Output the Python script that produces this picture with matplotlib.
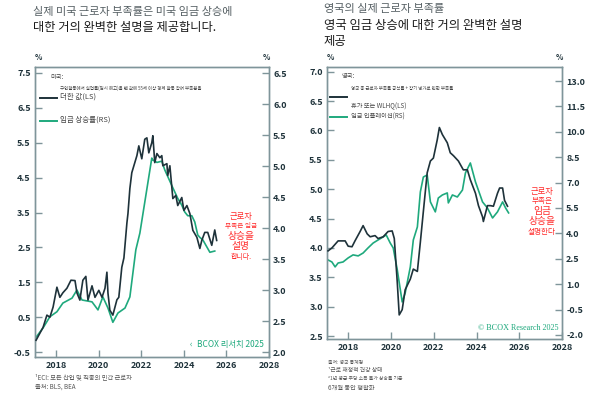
import matplotlib
matplotlib.use("Agg")
import matplotlib.pyplot as plt
from matplotlib.lines import Line2D

plt.rcParams['font.family'] = ['Noto Sans CJK KR', 'DejaVu Sans']

# ---- data ----
# US: worker shortage (LS)
us_short_t = [2017.05, 2017.38, 2017.56, 2017.70, 2017.85, 2018.03, 2018.17, 2018.31, 2018.50,
              2018.69, 2018.88, 2018.97, 2019.11, 2019.25, 2019.39, 2019.49, 2019.68, 2019.82,
              2020.00, 2020.15, 2020.29, 2020.38, 2020.43, 2020.52, 2020.66, 2020.85, 2020.94,
              2021.08, 2021.18, 2021.32, 2021.37, 2021.46, 2021.55, 2021.79, 2021.88, 2022.02,
              2022.16, 2022.26, 2022.35, 2022.49, 2022.54, 2022.63, 2022.73, 2022.87, 2022.96,
              2023.01, 2023.20, 2023.24, 2023.34, 2023.48, 2023.62, 2023.71, 2023.90, 2024.00,
              2024.14, 2024.28, 2024.42, 2024.61, 2024.75, 2024.84, 2024.98, 2025.12, 2025.31,
              2025.45, 2025.54]
us_short_v = [-0.16, 0.21, 0.56, 0.50, 0.79, 1.36, 1.07, 1.20, 1.33,
              1.56, 1.55, 1.20, 0.99, 1.56, 1.67, 0.99, 1.40, 1.07,
              1.27, 1.07, 1.33, 1.79, 1.19, 0.70, 0.56, 1.00, 1.07,
              1.93, 2.20, 3.20, 3.47, 4.19, 4.64, 5.13, 5.41, 5.04,
              5.60, 5.64, 5.21, 5.50, 5.70, 4.93, 5.19, 5.07, 5.13,
              4.84, 4.90, 4.56, 4.84, 3.90, 3.99, 3.70, 3.93, 3.56,
              3.70, 3.47, 2.99, 2.79, 2.47, 2.70, 2.93, 2.93, 2.56,
              3.00, 2.70]
# US: wage growth (RS)
us_wage_t = [2017.05, 2017.38, 2017.70, 2018.03, 2018.31, 2018.74, 2018.97, 2019.21, 2019.68,
             2019.96, 2020.19, 2020.43, 2020.66, 2020.90, 2021.23, 2021.46, 2021.74, 2021.93,
             2022.49, 2022.54, 2022.73, 2022.96, 2023.10, 2023.48, 2023.71, 2023.90, 2024.04,
             2024.18, 2024.37, 2024.51, 2024.65, 2024.75, 2024.89, 2025.22, 2025.45]
us_wage_v = [2.24, 2.39, 2.57, 2.65, 2.79, 2.87, 3.00, 2.84, 2.81,
             2.68, 2.89, 2.71, 2.48, 2.63, 2.71, 2.89, 3.65, 3.92,
             5.13, 5.10, 5.06, 5.08, 4.94, 4.65, 4.48, 4.37, 4.26,
             4.20, 4.20, 4.10, 3.89, 3.85, 3.81, 3.61, 3.63]

# UK: worker shortage (LS)
uk_short_t = [2017.05, 2017.23, 2017.52, 2017.85, 2017.99, 2018.17, 2018.31, 2018.55, 2018.69,
              2018.88, 2019.02, 2019.25, 2019.39, 2019.63, 2019.86, 2020.05, 2020.15, 2020.29,
              2020.38, 2020.52, 2020.66, 2020.90, 2021.04, 2021.23, 2021.37, 2021.51, 2021.69,
              2021.84, 2021.98, 2022.16, 2022.26, 2022.40, 2022.63, 2022.77, 2022.92, 2023.15,
              2023.38, 2023.57, 2023.71, 2023.95, 2024.09, 2024.28, 2024.32, 2024.51, 2024.65,
              2024.79, 2024.98, 2025.08, 2025.22, 2025.31, 2025.45]
uk_short_v = [3.95, 4.00, 4.12, 4.12, 4.03, 4.02, 4.12, 4.28, 4.38,
              4.24, 4.19, 4.21, 4.16, 4.19, 4.28, 4.29, 4.16, 3.41,
              2.86, 2.95, 3.29, 3.47, 3.64, 3.60, 4.10, 4.62, 5.28,
              5.48, 5.53, 5.84, 6.05, 5.93, 5.79, 5.62, 5.57, 5.48,
              5.33, 5.33, 5.16, 4.93, 4.72, 4.53, 4.45, 4.72, 4.72,
              4.71, 4.93, 5.02, 5.02, 4.81, 4.71]
# UK: wage inflation (RS)
uk_wage_t = [2017.05, 2017.23, 2017.38, 2017.52, 2017.75, 2017.99, 2018.22, 2018.46, 2018.69,
             2018.92, 2019.16, 2019.39, 2019.63, 2019.77, 2019.96, 2020.10, 2020.29, 2020.52,
             2020.66, 2020.90, 2021.04, 2021.23, 2021.37, 2021.51, 2021.69, 2021.84, 2022.07,
             2022.21, 2022.40, 2022.63, 2022.68, 2022.87, 2023.10, 2023.34, 2023.48, 2023.71,
             2023.95, 2024.28, 2024.51, 2024.75, 2024.98, 2025.22, 2025.36, 2025.50]
uk_wage_v = [2.43, 2.31, 2.02, 2.25, 2.31, 2.55, 2.73, 2.67, 2.84,
             3.14, 3.43, 3.61, 3.79, 3.91, 3.43, 3.14, 1.84, -0.05,
             0.48, 2.02, 3.61, 4.38, 6.45, 7.33, 7.45, 5.86, 5.27,
             6.09, 6.27, 6.39, 5.80, 6.27, 6.15, 6.56, 7.57, 8.16,
             7.04, 5.86, 5.50, 4.91, 5.27, 5.86, 5.50, 5.21]

x_ticks = [2018, 2020, 2022, 2024, 2026, 2028]
us_left_ticks = [-0.5, 0.5, 1.5, 2.5, 3.5, 4.5, 5.5, 6.5, 7.5]
us_right_ticks = [2.0, 2.5, 3.0, 3.5, 4.0, 4.5, 5.0, 5.5, 6.0, 6.5]
uk_left_ticks = [2.5, 3.0, 3.5, 4.0, 4.5, 5.0, 5.5, 6.0, 6.5, 7.0]
uk_right_ticks = [-2.0, -0.5, 1.0, 2.5, 4.0, 5.5, 7.0, 8.5, 10.0, 11.5, 13.0]

DARK = '#1e323a'
GREEN = '#1fa97d'
SPINE = '#7f959a'
RED = '#ff2a2a'

W, H = 590, 394
fig = plt.figure(figsize=(W / 100, H / 100), dpi=100)


def fx(px):
    return px / W


def fy(py):
    return 1 - py / H


def style(ax):
    for s in ax.spines.values():
        s.set_color(SPINE)
        s.set_linewidth(1.0)
    ax.tick_params(direction='in', length=5, width=1, color=SPINE,
                   labelsize=6.5, labelcolor=DARK, pad=3)
    for lab in ax.get_xticklabels() + ax.get_yticklabels():
        lab.set_fontweight('bold')


def make_panel(rect, lt, lv, rt, rv, xt, lticks, rticks, llim, rlim):
    ax = fig.add_axes(rect)
    ax2 = ax.twinx()
    ax.plot(lt, lv, color=DARK, lw=1.2, zorder=3)
    ax2.plot(rt, rv, color=GREEN, lw=1.2)
    ax.set_zorder(ax2.get_zorder() + 1)
    ax.patch.set_visible(False)
    ax.set_xlim(2017.0, 2028.0)
    ax.set_xticks(xt)
    ax.set_xticklabels([str(v) for v in xt])
    ax.set_ylim(*llim)
    ax.set_yticks(lticks)
    ax.set_yticklabels([f'{v:.1f}' for v in lticks])
    ax2.set_ylim(*rlim)
    ax2.set_yticks(rticks)
    ax2.set_yticklabels([f'{v:.1f}' for v in rticks])
    style(ax)
    style(ax2)
    return ax, ax2


# left panel (US)
axL, axL2 = make_panel([fx(35), fy(357), fx(269) - fx(35), fy(67) - fy(357)],
                       us_short_t, us_short_v, us_wage_t, us_wage_v, x_ticks,
                       us_left_ticks, us_right_ticks, (-0.64, 7.67), (1.92, 6.6))
# right panel (UK)
axR, axR2 = make_panel([fx(327), fy(339), fx(562) - fx(327), fy(67) - fy(339)],
                       uk_short_t, uk_short_v, uk_wage_t, uk_wage_v, x_ticks,
                       uk_left_ticks, uk_right_ticks, (2.45, 7.08), (-2.24, 13.83))

# titles
fig.text(fx(33), fy(12), '실제 미국 근로자 부족률은 미국 임금 상승에', fontsize=8,
         color='#555f63', va='center')
fig.text(fx(33), fy(27), '대한 거의 완벽한 설명을 제공합니다.', fontsize=8.8,
         color='#1a1a1a', va='center', fontweight='medium')
fig.text(fx(324), fy(9), '영국의 실제 근로자 부족률', fontsize=8,
         color='#555f63', va='center')
fig.text(fx(324), fy(26), '영국 임금 상승에 대한 거의 완벽한 설명', fontsize=8.9,
         color='#1a1a1a', va='center', fontweight='medium')
fig.text(fx(324), fy(42), '제공', fontsize=8.9, color='#1a1a1a', va='center',
         fontweight='medium')

# % unit labels
for px in (38, 266, 330, 559):
    fig.text(fx(px), fy(57), '%', fontsize=5.5, color=DARK, ha='center',
             va='center', fontweight='bold')

# legends (US)
fig.text(fx(50), fy(77), '미국:', fontsize=4.5, color='#444', va='center')
fig.text(fx(60), fy(88), '구인활동에서 실업률(임시 해고)을 뺀 값에 55세 이상 경제 활동 참여 부족분을',
         fontsize=3.2, color='#444', va='center')
fig.add_artist(Line2D([fx(40), fx(57)], [fy(98), fy(98)], color=DARK, lw=1.4))
fig.text(fx(60), fy(97), '더한 값(LS)', fontsize=5.4, color='#444', va='center')
fig.add_artist(Line2D([fx(40), fx(57)], [fy(121), fy(121)], color=GREEN, lw=1.4))
fig.text(fx(60), fy(120), '임금 상승률(RS)', fontsize=5.4, color='#444', va='center')

# legends (UK)
fig.text(fx(342), fy(76), '영국:', fontsize=4.5, color='#444', va='center')
fig.text(fx(351), fy(88), '영국 총 근로자 부족률 공석률 + 장기 병가로 인한 부족률',
         fontsize=3.2, color='#444', va='center')
fig.add_artist(Line2D([fx(330), fx(347)], [fy(97), fy(97)], color=DARK, lw=1.4))
fig.text(fx(351), fy(106), '휴가 또는 WLHQ(LS)', fontsize=4.5, color='#444', va='center')
fig.add_artist(Line2D([fx(330), fx(347)], [fy(117), fy(117)], color=GREEN, lw=1.4))
fig.text(fx(351), fy(117), '임금 인플레이션(RS)', fontsize=4.5, color='#444', va='center')

# red annotations
for txt, py, fs in [('근로자', 216, 6), ('부족은 임금', 226, 4.8), ('상승을', 236, 7),
                    ('설명', 246, 7), ('합니다.', 257, 5)]:
    fig.text(fx(241), fy(py), txt, fontsize=fs, color=RED, ha='center', va='center')
for txt, py, fs in [('근로자', 191, 6), ('부족은', 201, 5.5), ('임금', 211, 7),
                    ('상승을', 221, 7), ('설명한다', 232, 5.5)]:
    fig.text(fx(542), fy(py), txt, fontsize=fs, color=RED, ha='center', va='center')

# credits
fig.text(fx(190), fy(344), '‹', fontsize=6, color=GREEN, va='center')
fig.text(fx(197), fy(344), 'BCOX 리서치 2025', fontsize=6, color=GREEN, va='center')
fig.text(fx(478), fy(328), '© BCOX Research 2025', fontsize=5.9, color=GREEN,
         va='center', family='Liberation Serif')

# footnotes
fig.text(fx(35), fy(377), '¹ECI: 모든 산업 및 직종의 민간 근로자', fontsize=4.5,
         color='#555', va='center')
fig.text(fx(35), fy(387), '출처: BLS, BEA', fontsize=4.5, color='#555', va='center')
fig.text(fx(328), fy(362), '출처: 영국 통계청', fontsize=3.5, color='#555', va='center')
fig.text(fx(328), fy(371), '¹근로 재정적 건강 상태', fontsize=4.2, color='#555', va='center')
fig.text(fx(328), fy(379), '²1년 평균 주당 소득 물가 상승률 기준', fontsize=3.5,
         color='#555', va='center')
fig.text(fx(328), fy(388), '6개월 동안 평활화', fontsize=4.5, color='#555', va='center')

fig.savefig('out.png', dpi=100, facecolor='white')
